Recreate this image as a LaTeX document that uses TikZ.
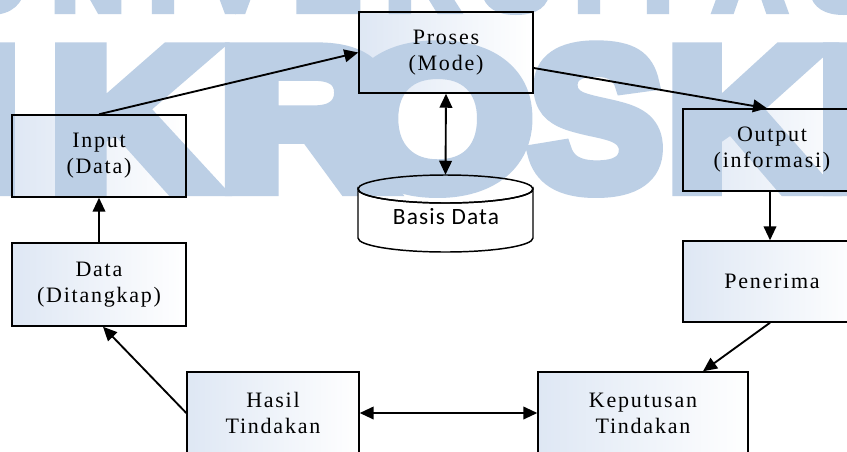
\documentclass[tikz,border=0pt]{standalone}
\usepackage{fontspec}
\setmainfont{Liberation Serif}[LetterSpace=8]
\newfontfamily\dbfont{Carlito}[LetterSpace=5]
\newfontfamily\wmfont{Liberation Sans}[FakeBold=8]
\usetikzlibrary{arrows.meta,calc}
\pgfdeclarelayer{fills}
\pgfdeclarelayer{wmark}
\pgfsetlayers{fills,wmark,main}
\newcommand\px{0.75pt}
\definecolor{wm}{RGB}{188,207,229}
\definecolor{boxblue}{RGB}{222,231,244}
\begin{document}
\begin{tikzpicture}[x=0.75pt,y=-0.75pt,
  blk/.style={draw=black, line width=1.1pt,
    align=center, font=\fontsize{16.5}{19.5}\selectfont, inner sep=0pt},
  conn/.style={line width=1.4pt, -{Triangle[length=10.5pt,width=9.5pt]}},
  dconn/.style={line width=1.4pt, {Triangle[length=10.5pt,width=9.5pt]}-{Triangle[length=10.5pt,width=9.5pt]}},
  wmbig/.style={text=wm, font=\wmfont\bfseries\fontsize{150}{150}\selectfont, inner sep=0pt, anchor=base, xscale=#1, transform shape},
  wmbig/.default=1.1,
  wmsmall/.style={text=wm, font=\wmfont\bfseries\fontsize{75}{75}\selectfont, inner sep=0pt, anchor=base}
]
\useasboundingbox (0,0) rectangle (847,451);
\begin{pgfonlayer}{fills}
\fill[white] (0,0) rectangle (847,451);
\end{pgfonlayer}
\clip (0,0) rectangle (847,451);

% boxes
\node[blk, minimum width=174*\px, minimum height=82*\px] (inp) at (99,156) {Input\\(Data)};
\node[blk, minimum width=174*\px, minimum height=83*\px] (dat) at (99,284.5) {Data\\(Ditangkap)};
\node[blk, minimum width=174*\px, minimum height=81*\px] (pro) at (446,52.5) {Proses\\(Mode)};
\node[blk, minimum width=178*\px, minimum height=82*\px] (out) at (772,150) {Output\\(informasi)};
\node[blk, minimum width=178*\px, minimum height=81*\px] (pen) at (772,281.5) {Penerima};
\node[blk, minimum width=210*\px, minimum height=82*\px] (kep) at (643,413) {Keputusan\\Tindakan};
\node[blk, minimum width=172*\px, minimum height=82*\px] (has) at (273,413) {Hasil\\Tindakan};

\begin{pgfonlayer}{fills}
\clip (0,0) rectangle (847,451);
\foreach \n in {inp,dat,pro,out,pen,kep,has}
  \shade[left color=boxblue, right color=white] (\n.north west) rectangle (\n.south east);
\end{pgfonlayer}

% database cylinder
\node[minimum width=175*\px, minimum height=77*\px, inner sep=0pt] (db) at (445.5,213.5) {};
\draw[line width=1.1pt, fill=white] (358,189) -- (358,238)
  arc[start angle=180, end angle=0, x radius=87.5, y radius=14] -- (533,189)
  arc[start angle=0, end angle=180, x radius=87.5, y radius=14] -- cycle;
\draw[line width=1.1pt] (445.5,189) ellipse[x radius=87.5, y radius=14];
\node[font=\dbfont\fontsize{17.5}{20}\selectfont, inner sep=0pt] (dbl) at (446,217) {Basis Data};

% connectors
\draw[conn] (inp.north) -- (pro.west);
\draw[conn] ($(pro.east)+(0,15.5)$) -- ($(out.north)+(-5,0)$);
\draw[dconn] (pro.south) -- (db.north);
\draw[conn] ($(out.south)+(-2,0)$) -- ($(pen.north)+(-2,0)$);
\draw[conn] ($(pen.south)+(-2,0)$) -- ($(kep.north)+(60,0)$);
\draw[dconn] (kep.west) -- (has.east);
\draw[conn] (has.west) -- ($(dat.south)+(4,0)$);
\draw[conn] (dat.north) -- (inp.south);

% watermark
\begin{pgfonlayer}{wmark}
\clip (0,0) rectangle (847,451);
\node[wmbig=1.2] (w1) at (-12,188) {I};
\node[wmbig=1.15] (w2) at (132,188) {K};
\node[wmbig=1.2] (w3) at (305,188) {R};
\node[wmbig=1.22] (w4) at (438,188) {O};
\node[wmbig=1.0] (w5) at (596,188) {S};
\node[wmbig=1.1] (w6) at (746,188) {K};
\node[wmbig=1.2] (w7) at (850,188) {I};
\node[wmsmall] (v1) at (-9,10) {U};
\node[wmsmall] (v2) at (88,10) {N};
\node[wmsmall] (v3) at (163,10) {I};
\node[wmsmall] (v4) at (235,10) {V};
\node[wmsmall] (v5) at (327,10) {E};
\node[wmsmall] (v6) at (422,10) {R};
\node[wmsmall] (v7) at (516,10) {S};
\node[wmsmall] (v8) at (589,10) {I};
\node[wmsmall] (v9) at (658,10) {T};
\node[wmsmall] (v10) at (750,10) {A};
\node[wmsmall] (v11) at (844,10) {S};
\end{pgfonlayer}
\end{tikzpicture}
\end{document}
